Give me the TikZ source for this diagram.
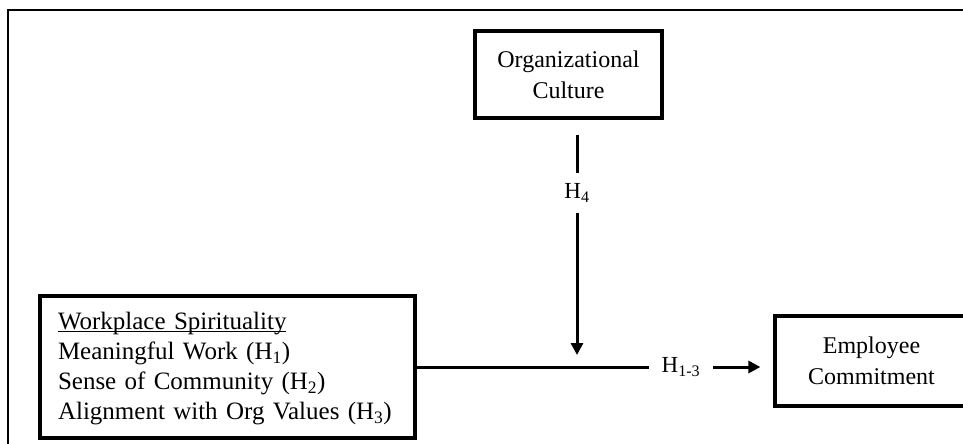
\documentclass[tikz,border=0pt]{standalone}
\usepackage{fontspec}
\setmainfont{Liberation Serif}
\usetikzlibrary{arrows.meta}

\newlength{\du}
\setlength{\du}{1pt}

\tikzset{
  varbox/.style={draw, line width=3.2\du, align=center, inner sep=0pt,
    font=\fontsize{24}{31}\selectfont},
  hyplabel/.style={inner sep=0pt, font=\fontsize{23}{26}\selectfont},
  frameline/.style={line width=1.5\du},
  connector/.style={line width=3\du},
  effect/.style={connector, -{Triangle[length=12pt,width=12pt]}},
}

\begin{document}
\begin{tikzpicture}[x=1\du,y=-1\du]
\clip (0,0) rectangle (963,444);
\draw[frameline] (8,470) -- (8,10) -- (990,10);

\node[varbox, minimum width=187\du, minimum height=87\du] (orgcult) at (568.5,74.5)
  {Organizational\\Culture};
\node[varbox, text width=339\du, inner xsep=18\du, minimum height=142\du, align=left,
  font=\fontsize{25}{30}\selectfont] (wspirit) at (227.5,367)
  {\strut\underline{\smash{Workplace Spirituality}}\\
   Meaningful Work (H\textsubscript{1})\\
   Sense of Community (H\textsubscript{2})\\
   Alignment with Org Values (H\textsubscript{3})};
\node[varbox, minimum width=193\du, minimum height=90\du] (empcommit) at (871.5,361)
  {Employee\\Commitment};

\node[hyplabel, minimum height=40\du] (h4) at (577,193) {H\textsubscript{4}};
\node[hyplabel, minimum width=64\du] (h13) at (681,367) {H\textsubscript{1-3}};
\coordinate (meet) at (h4 |- wspirit.east);

\draw[connector, shorten <=15\du] (h4 |- orgcult.south) -- (h4.north);
\draw[effect, shorten >=12\du] (h4.south) -- (meet);
\draw[connector] (wspirit.east) -- (h13.west);
\draw[effect, shorten >=13\du] (h13.east) -- (h13.east -| empcommit.west);
\end{tikzpicture}
\end{document}
